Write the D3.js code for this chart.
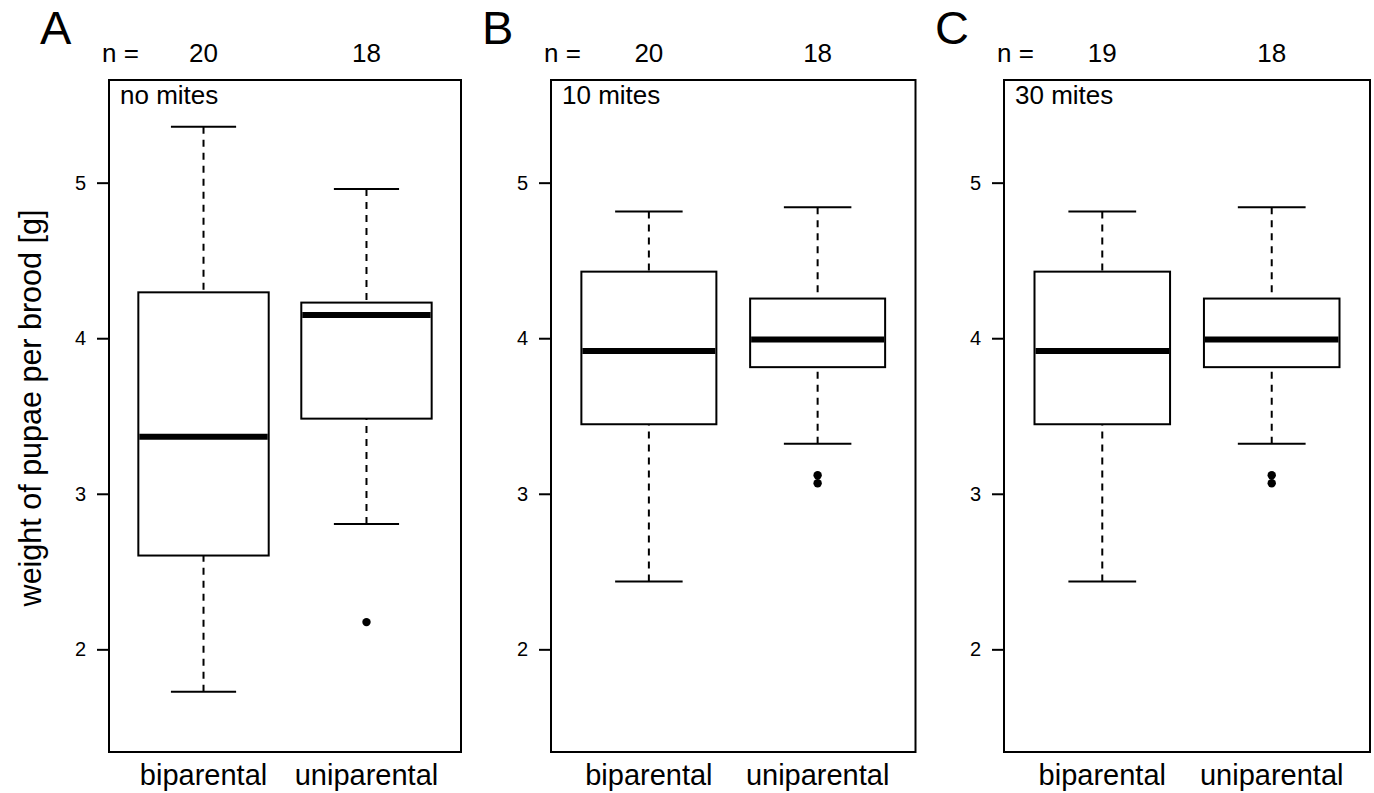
<!DOCTYPE html>
<html>
<head>
<meta charset="utf-8">
<script src="https://cdn.jsdelivr.net/npm/d3@7"></script>
<style>
  body { margin: 0; background: white; }
  text { font-family: "Liberation Sans", Arial, Helvetica, sans-serif; fill: black; }
</style>
</head>
<body>
<div id="chart"></div>
<script>
// data
var panelLetters = ["A", "B", "C"];
var treatments = ["no mites", "10 mites", "30 mites"];
var groups = ["biparental", "uniparental"];
var nCounts = [[20, 18], [20, 18], [19, 18]];
var whiskLow  = [[1.727, 2.805], [2.436, 3.321], [2.436, 3.321]];
var q1        = [[2.603, 3.483], [3.447, 3.814], [3.447, 3.814]];
var medians   = [[3.367, 4.150], [3.918, 3.991], [3.918, 3.991]];
var q3        = [[4.295, 4.229], [4.428, 4.255], [4.428, 4.255]];
var whiskHigh = [[5.360, 4.960], [4.814, 4.842], [4.814, 4.842]];
var outliers  = [[[], [2.175]], [[], [3.119, 3.068]], [[], [3.119, 3.068]]];
var yTicks = [2, 3, 4, 5];
var yLabel = "weight of pupae per brood [g]";

var width = 1374, height = 793;
var plotTop = 80, plotBottom = 752;
// plot regions of the three panels
var panelLeft  = [109, 551, 1004];
var panelRight = [461, 915.5, 1370];

var svg = d3.select("#chart").append("svg")
    .attr("width", width)
    .attr("height", height)
    .style("background-color", "white");

// ylim = c(1.5, 5.5) with the usual 4% padding
var y = d3.scaleLinear().domain([1.34, 5.66]).range([plotBottom, plotTop]);

panelLetters.forEach(function(letter, p) {
  var x = d3.scaleLinear().domain([0.42, 2.58]).range([panelLeft[p], panelRight[p]]);
  var g = svg.append("g");

  var boxes = groups.map(function(name, i) {
    return {pos: i + 1, name: name, n: nCounts[p][i],
            lo: whiskLow[p][i], q1: q1[p][i], med: medians[p][i],
            q3: q3[p][i], hi: whiskHigh[p][i], out: outliers[p][i]};
  });

  // whiskers (dashed)
  g.selectAll(".whisk-up").data(boxes).enter().append("line")
      .attr("x1", function(d) { return x(d.pos); })
      .attr("x2", function(d) { return x(d.pos); })
      .attr("y1", function(d) { return y(d.hi); })
      .attr("y2", function(d) { return y(d.q3); })
      .attr("stroke", "black").attr("stroke-width", 2)
      .attr("stroke-dasharray", "7,6");
  g.selectAll(".whisk-down").data(boxes).enter().append("line")
      .attr("x1", function(d) { return x(d.pos); })
      .attr("x2", function(d) { return x(d.pos); })
      .attr("y1", function(d) { return y(d.lo); })
      .attr("y2", function(d) { return y(d.q1); })
      .attr("stroke", "black").attr("stroke-width", 2)
      .attr("stroke-dasharray", "7,6");

  // staples
  ["hi", "lo"].forEach(function(k) {
    g.selectAll(".cap-" + k).data(boxes).enter().append("line")
        .attr("x1", function(d) { return x(d.pos - 0.2); })
        .attr("x2", function(d) { return x(d.pos + 0.2); })
        .attr("y1", function(d) { return y(d[k]); })
        .attr("y2", function(d) { return y(d[k]); })
        .attr("stroke", "black").attr("stroke-width", 2);
  });

  // boxes
  g.selectAll(".box").data(boxes).enter().append("rect")
      .attr("x", function(d) { return x(d.pos - 0.4); })
      .attr("width", function(d) { return x(d.pos + 0.4) - x(d.pos - 0.4); })
      .attr("y", function(d) { return y(d.q3); })
      .attr("height", function(d) { return y(d.q1) - y(d.q3); })
      .attr("fill", "white").attr("stroke", "black").attr("stroke-width", 2);

  // medians
  g.selectAll(".med").data(boxes).enter().append("line")
      .attr("x1", function(d) { return x(d.pos - 0.4) + 1; })
      .attr("x2", function(d) { return x(d.pos + 0.4) - 1; })
      .attr("y1", function(d) { return y(d.med); })
      .attr("y2", function(d) { return y(d.med); })
      .attr("stroke", "black").attr("stroke-width", 6);

  // outliers
  boxes.forEach(function(b) {
    g.selectAll(null).data(b.out).enter().append("circle")
        .attr("cx", x(b.pos))
        .attr("cy", function(v) { return y(v); })
        .attr("r", 4.2)
        .attr("fill", "black");
  });

  // frame
  g.append("rect")
      .attr("x", panelLeft[p]).attr("y", plotTop)
      .attr("width", panelRight[p] - panelLeft[p])
      .attr("height", plotBottom - plotTop)
      .attr("fill", "none").attr("stroke", "black").attr("stroke-width", 2);

  // y axis
  var yAxis = g.append("g")
      .attr("transform", "translate(" + panelLeft[p] + ",0)")
      .call(d3.axisLeft(y).tickValues(yTicks).tickFormat(d3.format("d"))
            .tickSize(12).tickPadding(11));
  yAxis.select(".domain").remove();
  yAxis.selectAll(".tick line").attr("stroke-width", 2);
  yAxis.selectAll("text").style("font-size", "20px")
      .style("font-family", '"Liberation Sans", Arial, sans-serif');

  // group names
  g.selectAll(".xlab").data(boxes).enter().append("text")
      .attr("x", function(d) { return x(d.pos); })
      .attr("y", 785)
      .attr("text-anchor", "middle")
      .style("font-size", "29px")
      .text(function(d) { return d.name; });

  // sample sizes
  g.append("text")
      .attr("x", panelLeft[p] - 7).attr("y", 62)
      .style("font-size", "26px")
      .text("n =");
  g.selectAll(".nlab").data(boxes).enter().append("text")
      .attr("x", function(d) { return x(d.pos); })
      .attr("y", 62)
      .attr("text-anchor", "middle")
      .style("font-size", "26px")
      .text(function(d) { return d.n; });

  // treatment
  g.append("text")
      .attr("x", panelLeft[p] + 11).attr("y", 104)
      .style("font-size", "26px")
      .text(treatments[p]);

  // panel letter
  g.append("text")
      .attr("x", panelLeft[p] - 69).attr("y", 44)
      .style("font-size", "47px")
      .text(letter);
});

// y label
svg.append("text")
    .attr("transform", "translate(41,408) rotate(-90)")
    .attr("text-anchor", "middle")
    .style("font-size", "30.5px")
    .text(yLabel);
</script>
</body>
</html>
